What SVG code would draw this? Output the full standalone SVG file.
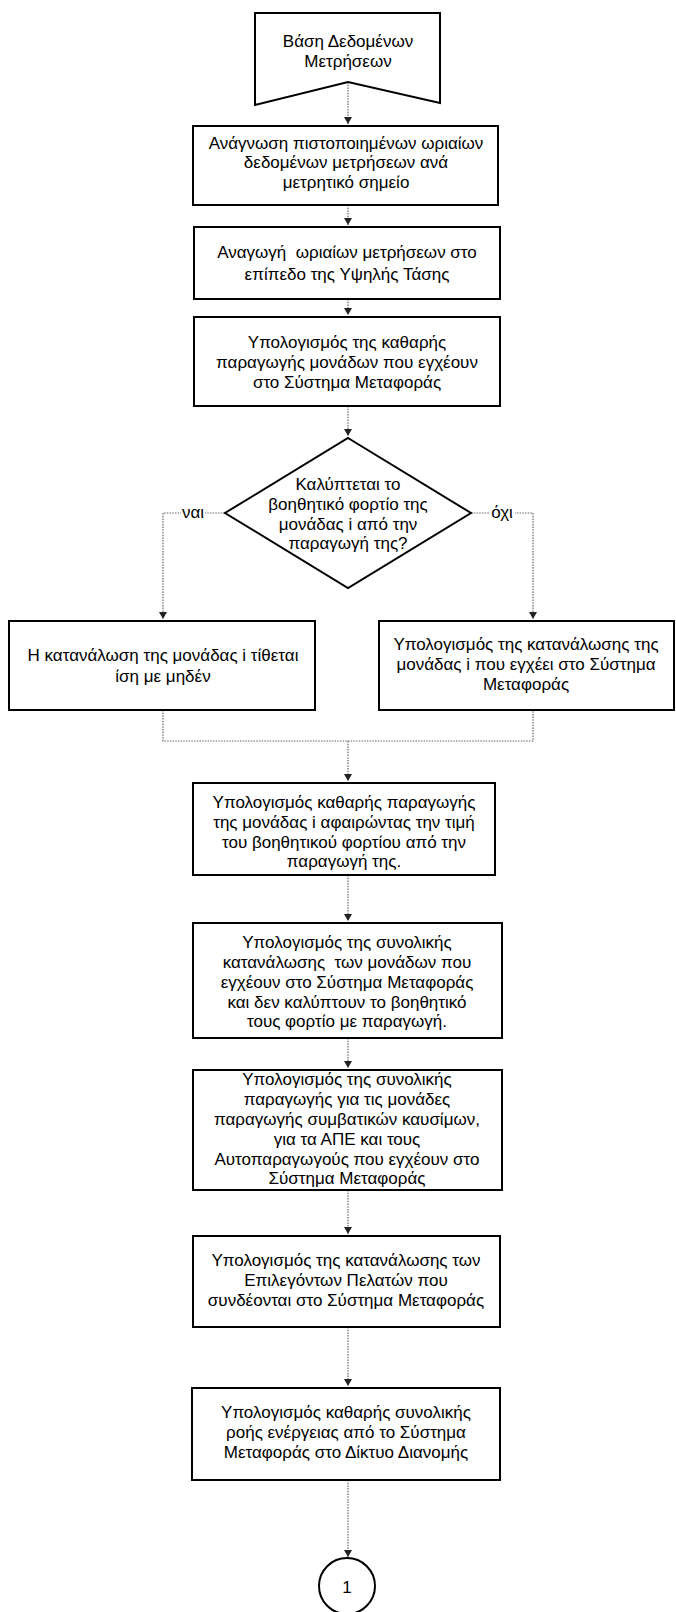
<svg xmlns="http://www.w3.org/2000/svg" width="676" height="1612" viewBox="0 0 676 1612">
  <defs>
    <marker id="arrow" viewBox="-1 -5 10 10" markerWidth="10" markerHeight="10" refX="7" refY="0" orient="auto" markerUnits="userSpaceOnUse">
      <path d="M0,-4 L7,0 L0,4 z" fill="#222"/>
    </marker>
    <style>
      .box { fill: #fff; stroke: #000; stroke-width: 2; }
      .lbl { font-family: "Liberation Sans", Arial, sans-serif; font-size: 17px; fill: #000; text-anchor: middle; }
      .edge { fill: none; stroke: #666; stroke-width: 1.2; stroke-dasharray: 1.5 1.2; }
      .arr { marker-end: url(#arrow); }
      .cut { fill: #fff; }
    </style>
  </defs>
  <rect width="676" height="1612" fill="#fff"/>

  <!-- connectors -->
  <g id="connectors">
    <path class="edge arr" d="M348,82 V124"/>
    <path class="edge arr" d="M348,205 V225"/>
    <path class="edge arr" d="M348,299 V315"/>
    <path class="edge arr" d="M348,406 V436"/>
    <path class="edge arr" d="M225,513 H163 V619"/>
    <path class="edge arr" d="M471,513 H533 V619"/>
    <path class="edge" d="M163,710 V741 H533 V710"/>
    <path class="edge arr" d="M348,741 V781"/>
    <path class="edge arr" d="M348,875 V921"/>
    <path class="edge arr" d="M348,1038 V1068"/>
    <path class="edge arr" d="M348,1190 V1234"/>
    <path class="edge arr" d="M348,1327 V1386"/>
    <path class="edge arr" d="M348,1480 V1557"/>
  </g>

  <!-- branch labels -->
  <g id="label-yes">
    <rect class="cut" x="181" y="504" width="24" height="18"/>
    <text class="lbl" x="193" y="518">ναι</text>
  </g>
  <g id="label-no">
    <rect class="cut" x="490" y="504" width="25" height="18"/>
    <text class="lbl" x="502" y="518">όχι</text>
  </g>

  <!-- source: measurement database -->
  <g id="n-db">
    <path class="box" d="M255,13 H440 V103 L348,82 L255,105 Z"/>
    <text class="lbl" x="348" y="47">Βάση Δεδομένων</text>
    <text class="lbl" x="348" y="67">Μετρήσεων</text>
  </g>

  <g id="n-read">
    <rect class="box" x="193" y="126" width="305" height="79"/>
    <text class="lbl" x="346" y="149">Ανάγνωση πιστοποιημένων ωριαίων</text>
    <text class="lbl" x="346" y="168">δεδομένων μετρήσεων ανά</text>
    <text class="lbl" x="346" y="188">μετρητικό σημείο</text>
  </g>

  <g id="n-reduce">
    <rect class="box" x="194" y="227" width="306" height="72"/>
    <text class="lbl" x="347" y="258" xml:space="preserve">Αναγωγή  ωριαίων μετρήσεων στο</text>
    <text class="lbl" x="347" y="280">επίπεδο της Υψηλής Τάσης</text>
  </g>

  <g id="n-netgen">
    <rect class="box" x="194" y="317" width="306" height="89"/>
    <text class="lbl" x="347" y="348">Υπολογισμός της καθαρής</text>
    <text class="lbl" x="347" y="368">παραγωγής μονάδων που εγχέουν</text>
    <text class="lbl" x="347" y="388">στο Σύστημα Μεταφοράς</text>
  </g>

  <g id="n-decision">
    <path class="box" d="M348,438 L471,513 L348,588 L225,513 Z"/>
    <text class="lbl" x="348" y="490">Καλύπτεται το</text>
    <text class="lbl" x="348" y="510">βοηθητικό φορτίο της</text>
    <text class="lbl" x="348" y="530">μονάδας i από την</text>
    <text class="lbl" x="348" y="549">παραγωγή της?</text>
  </g>

  <g id="n-zero">
    <rect class="box" x="9" y="621" width="306" height="89"/>
    <text class="lbl" x="163" y="661">Η κατανάλωση της μονάδας i τίθεται</text>
    <text class="lbl" x="163" y="682">ίση με μηδέν</text>
  </g>

  <g id="n-consumption">
    <rect class="box" x="379" y="621" width="295" height="89"/>
    <text class="lbl" x="526" y="650">Υπολογισμός της κατανάλωσης της</text>
    <text class="lbl" x="526" y="670">μονάδας i που εγχέει στο Σύστημα</text>
    <text class="lbl" x="526" y="690">Μεταφοράς</text>
  </g>

  <g id="n-unit-net">
    <rect class="box" x="193" y="783" width="302" height="92"/>
    <text class="lbl" x="344" y="808">Υπολογισμός καθαρής παραγωγής</text>
    <text class="lbl" x="344" y="828">της μονάδας i αφαιρώντας την τιμή</text>
    <text class="lbl" x="344" y="848">του βοηθητικού φορτίου από την</text>
    <text class="lbl" x="344" y="867">παραγωγή της.</text>
  </g>

  <g id="n-total-cons">
    <rect class="box" x="193" y="923" width="309" height="115"/>
    <text class="lbl" x="347" y="948">Υπολογισμός της συνολικής</text>
    <text class="lbl" x="347" y="968" xml:space="preserve">κατανάλωσης  των μονάδων που</text>
    <text class="lbl" x="347" y="988">εγχέουν στο Σύστημα Μεταφοράς</text>
    <text class="lbl" x="347" y="1008">και δεν καλύπτουν το βοηθητικό</text>
    <text class="lbl" x="347" y="1027">τους φορτίο με παραγωγή.</text>
  </g>

  <g id="n-total-gen">
    <rect class="box" x="193" y="1070" width="309" height="120"/>
    <text class="lbl" x="347" y="1085">Υπολογισμός της συνολικής</text>
    <text class="lbl" x="347" y="1105">παραγωγής για τις μονάδες</text>
    <text class="lbl" x="347" y="1125">παραγωγής συμβατικών καυσίμων,</text>
    <text class="lbl" x="347" y="1145">για τα ΑΠΕ και τους</text>
    <text class="lbl" x="347" y="1165">Αυτοπαραγωγούς που εγχέουν στο</text>
    <text class="lbl" x="347" y="1184">Σύστημα Μεταφοράς</text>
  </g>

  <g id="n-customers">
    <rect class="box" x="193" y="1236" width="307" height="91"/>
    <text class="lbl" x="346" y="1266">Υπολογισμός της κατανάλωσης των</text>
    <text class="lbl" x="346" y="1286">Επιλεγόντων Πελατών που</text>
    <text class="lbl" x="346" y="1306">συνδέονται στο Σύστημα Μεταφοράς</text>
  </g>

  <g id="n-flow">
    <rect class="box" x="192" y="1388" width="308" height="92"/>
    <text class="lbl" x="346" y="1418">Υπολογισμός καθαρής συνολικής</text>
    <text class="lbl" x="346" y="1438">ροής ενέργειας από το Σύστημα</text>
    <text class="lbl" x="346" y="1458">Μεταφοράς στο Δίκτυο Διανομής</text>
  </g>

  <g id="n-connector-1">
    <circle class="box" cx="347" cy="1586" r="28"/>
    <text class="lbl" x="347" y="1593">1</text>
  </g>
</svg>
